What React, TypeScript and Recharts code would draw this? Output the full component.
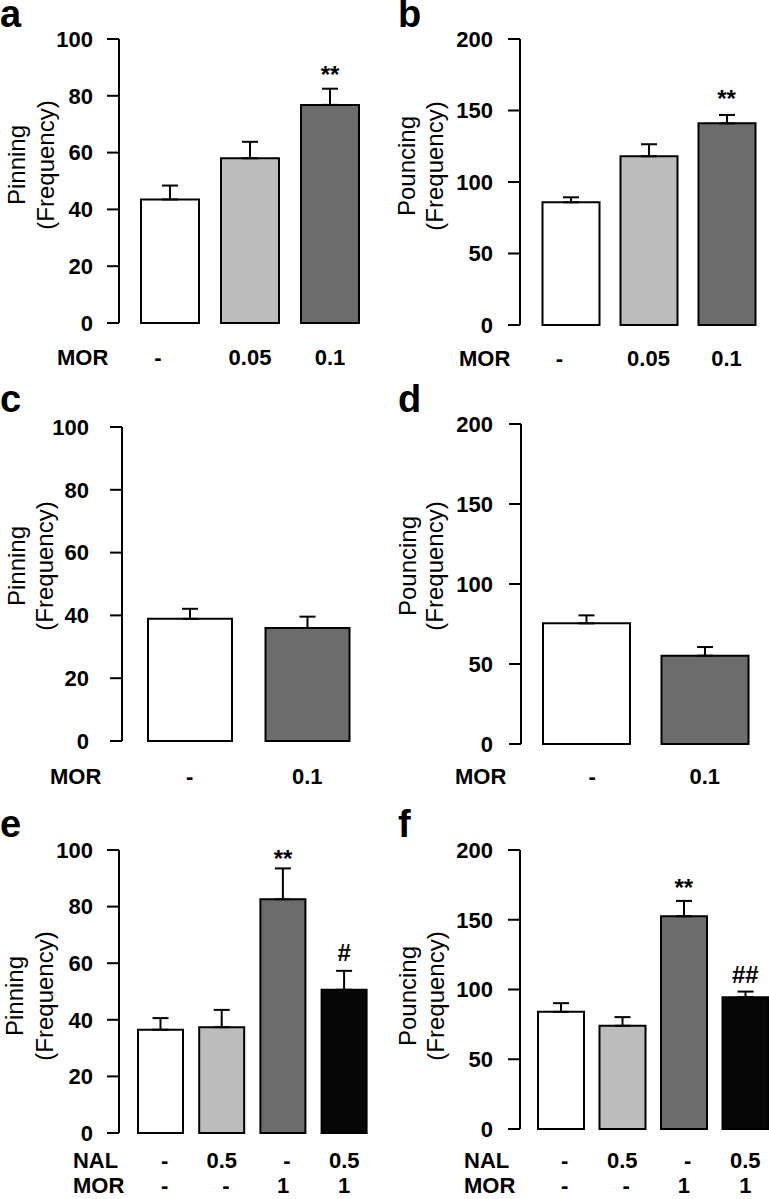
import React from "react";
import { ComposedChart, Bar, XAxis, YAxis, ErrorBar, Cell, Scatter } from "recharts";

const FONT = '"Liberation Sans", Arial, Helvetica, sans-serif';

const WHITE = "#ffffff";
const LIGHT = "#bcbcbc";
const DARK = "#6c6c6c";
const BLACK = "#060606";

// a – pinning, MOR dose
const aMor = ["-", "0.05", "0.1"];
const aMean = [43.5, 58, 76.8];
const aSem = [4.9, 5.8, 5.7];
const aSigY = [null, null, 89.8];
const aSig = ["", "", "**"];
const aFill = [WHITE, LIGHT, DARK];

// b – pouncing, MOR dose
const bMor = ["-", "0.05", "0.1"];
const bMean = [85.8, 118, 141];
const bSem = [3.5, 8.4, 5.9];
const bSigY = [null, null, 163];
const bSig = ["", "", "**"];
const bFill = [WHITE, LIGHT, DARK];

// c – pinning
const cMor = ["-", "0.1"];
const cMean = [38.9, 36.0];
const cSem = [3.2, 3.6];
const cFill = [WHITE, DARK];

// d – pouncing
const dMor = ["-", "0.1"];
const dMean = [75.4, 55.2];
const dSem = [5.0, 5.4];
const dFill = [WHITE, DARK];

// e – pinning, NAL + MOR
const eNal = ["-", "0.5", "-", "0.5"];
const eMor = ["-", "-", "1", "1"];
const eMean = [36.5, 37.4, 82.6, 50.6];
const eSem = [4.1, 6.1, 10.9, 6.7];
const eSigY = [null, null, 99.3, 63.6];
const eSig = ["", "", "**", "#"];
const eFill = [WHITE, LIGHT, DARK, BLACK];

// f – pouncing, NAL + MOR
const fNal = ["-", "0.5", "-", "0.5"];
const fMor = ["-", "-", "1", "1"];
const fMean = [84, 74, 152.5, 94.5];
const fSem = [6.2, 6.2, 11, 4];
const fSigY = [null, null, 177.8, 110.5];
const fSig = ["", "", "**", "##"];
const fFill = [WHITE, LIGHT, DARK, BLACK];

const pinTicks = [0, 20, 40, 60, 80, 100];
const pounceTicks = [0, 50, 100, 150, 200];

function rows(mean: number[], sem: number[], fill: string[], sigY?: (number | null)[], sig?: string[]) {
  return mean.map((m, i) => ({
    cat: String(i),
    mean: m,
    err: [0, sem[i]],
    fill: fill[i],
    sigY: sigY ? sigY[i] : null,
    sig: sig ? sig[i] : "",
  }));
}

const panels = [
  {
    letter: "a", left: 0, top: 0, height: 380, axisX: 119, plotTop: 39, plotBottom: 323,
    pad: 11, band: 80, barSize: 58, tickMargin: 14, yMax: 100, yTicks: pinTicks,
    yLabel: "Pinning", lx1: 16, lx2: 45, ly: 165, titleX: 57, dashDx: -12,
    xRows: [{ title: "MOR", labels: aMor, dy: 42 }],
    data: rows(aMean, aSem, aFill, aSigY, aSig),
  },
  {
    letter: "b", left: 384, top: 0, height: 380, axisX: 520, plotTop: 39, plotBottom: 325,
    pad: 11.5, band: 78, barSize: 57, tickMargin: 15, yMax: 200, yTicks: pounceTicks,
    yLabel: "Pouncing", lx1: 406, lx2: 434, ly: 166, titleX: 459, dashDx: -11,
    xRows: [{ title: "MOR", labels: bMor, dy: 41 }],
    data: rows(bMean, bSem, bFill, bSigY, bSig),
  },
  {
    letter: "c", left: 0, top: 380, height: 440, axisX: 122, plotTop: 427, plotBottom: 741,
    pad: 9, band: 117.5, barSize: 84, tickMargin: 21, yMax: 100, yTicks: pinTicks,
    yLabel: "Pinning", lx1: 16, lx2: 44, ly: 566, titleX: 50, dashDx: 0,
    xRows: [{ title: "MOR", labels: cMor, dy: 43 }],
    data: rows(cMean, cSem, cFill),
  },
  {
    letter: "d", left: 384, top: 380, height: 440, axisX: 521, plotTop: 424, plotBottom: 744,
    pad: 6, band: 118.5, barSize: 87, tickMargin: 16, yMax: 200, yTicks: pounceTicks,
    yLabel: "Pouncing", lx1: 407, lx2: 434, ly: 566, titleX: 455, dashDx: 6,
    xRows: [{ title: "MOR", labels: dMor, dy: 40 }],
    data: rows(dMean, dSem, dFill),
  },
  {
    letter: "e", left: 0, top: 820, height: 379, axisX: 119, plotTop: 850, plotBottom: 1133,
    pad: 11, band: 61.2, barSize: 45, tickMargin: 14, yMax: 100, yTicks: pinTicks,
    yLabel: "Pinning", lx1: 15, lx2: 45, ly: 996, titleX: 73, dashDx: 4,
    xRows: [
      { title: "NAL", labels: eNal, dy: 35 },
      { title: "MOR", labels: eMor, dy: 60 },
    ],
    data: rows(eMean, eSem, eFill, eSigY, eSig),
  },
  {
    letter: "f", left: 384, top: 820, height: 379, axisX: 520, plotTop: 850, plotBottom: 1129,
    pad: 10, band: 61.5, barSize: 46, tickMargin: 15, yMax: 200, yTicks: pounceTicks,
    yLabel: "Pouncing", lx1: 407, lx2: 435, ly: 996, titleX: 464, dashDx: 4,
    xRows: [
      { title: "NAL", labels: fNal, dy: 39 },
      { title: "MOR", labels: fMor, dy: 64 },
    ],
    data: rows(fMean, fSem, fFill, fSigY, fSig),
  },
];

const textStyle = { fontFamily: FONT, fontWeight: 700, fontSize: 22, fill: "#000" };

function Panel({ p }: { p: (typeof panels)[number] }) {
  const n = p.data.length;
  const yW = p.axisX - p.left;
  const width = yW + 2 * p.pad + n * p.band + 2;
  const xH = p.height - (p.plotBottom - p.top);

  const renderTick = (props: any) => {
    const { x, y, payload } = props;
    const i = Number(payload.value);
    return (
      <g>
        {p.xRows.map((r, k) => (
          <text
            key={k}
            x={x + (r.labels[i] === "-" ? p.dashDx : 0)}
            y={y + r.dy}
            textAnchor="middle"
            style={textStyle}
          >
            {r.labels[i]}
          </text>
        ))}
        {i === 0 &&
          p.xRows.map((r, k) => (
            <text key={"t" + k} x={p.titleX - p.left} y={y + r.dy} textAnchor="start" style={textStyle}>
              {r.title}
            </text>
          ))}
      </g>
    );
  };

  const renderYLabel = () => {
    const y = p.ly - p.top;
    const x1 = p.lx1 - p.left;
    const x2 = p.lx2 - p.left;
    const st = { fontFamily: FONT, fontSize: 24, fill: "#000" };
    return (
      <g>
        <text x={x1} y={y} transform={`rotate(-90 ${x1} ${y})`} textAnchor="middle" dominantBaseline="central" style={st}>
          {p.yLabel}
        </text>
        <text x={x2} y={y} transform={`rotate(-90 ${x2} ${y})`} textAnchor="middle" dominantBaseline="central" style={st}>
          (Frequency)
        </text>
      </g>
    );
  };

  const renderSig = (props: any) => {
    const { cx, cy, payload } = props;
    if (!payload || payload.sigY == null || cy == null || isNaN(cy)) return <g />;
    const off = payload.sig.indexOf("*") >= 0 ? 15 : 8;
    return (
      <text x={cx} y={cy + off} textAnchor="middle" style={{ fontFamily: FONT, fontWeight: 700, fontSize: 24, fill: "#000" }}>
        {payload.sig}
      </text>
    );
  };

  return (
    <div style={{ position: "absolute", left: p.left, top: p.top }}>
      <ComposedChart
        width={width}
        height={p.height}
        data={p.data}
        margin={{ top: p.plotTop - p.top, right: 2, bottom: 0, left: 0 }}
      >
        <XAxis
          dataKey="cat"
          type="category"
          interval={0}
          tickLine={false}
          axisLine={false}
          tickSize={0}
          tickMargin={0}
          height={xH}
          padding={{ left: p.pad, right: p.pad }}
          tick={renderTick}
        />
        <YAxis
          type="number"
          domain={[0, p.yMax]}
          ticks={p.yTicks}
          interval={0}
          width={yW}
          tickSize={12}
          tickMargin={p.tickMargin}
          axisLine={{ stroke: "#000", strokeWidth: 2 }}
          tickLine={{ stroke: "#000", strokeWidth: 2 }}
          tick={textStyle}
          label={{ content: renderYLabel }}
        />
        <Bar dataKey="mean" barSize={p.barSize} stroke="#000" strokeWidth={2} isAnimationActive={false}>
          {p.data.map((d, i) => (
            <Cell key={i} fill={d.fill} />
          ))}
          <ErrorBar dataKey="err" direction="y" width={8} stroke="#000" strokeWidth={2} isAnimationActive={false} />
        </Bar>
        <Scatter dataKey="sigY" isAnimationActive={false} shape={renderSig} />
      </ComposedChart>
    </div>
  );
}

export default function App() {
  return (
    <div
      style={{
        position: "absolute",
        left: 0,
        top: 0,
        width: 769,
        height: 1199,
        overflow: "hidden",
        background: "#fff",
      }}
    >
      {panels.map((p) => (
        <Panel key={p.letter} p={p} />
      ))}
      <svg width={769} height={1199} style={{ position: "absolute", left: 0, top: 0, pointerEvents: "none" }}>
        {panels.map((p) => (
          <text
            key={p.letter}
            x={p.left === 0 ? 0 : 398}
            y={p.top === 0 ? 27 : p.top === 380 ? 412 : 837}
            style={{ fontFamily: FONT, fontWeight: 700, fontSize: 38, fill: "#000" }}
          >
            {p.letter}
          </text>
        ))}
      </svg>
    </div>
  );
}
